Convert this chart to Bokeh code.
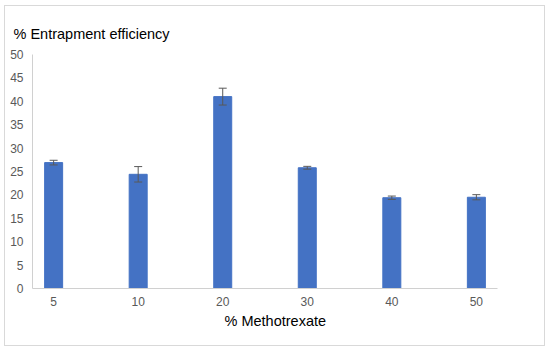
from bokeh.plotting import figure
from bokeh.models import Range1d, ColumnDataSource, Whisker, TeeHead, Title, FixedTicker
from bokeh.embed import file_html
from bokeh.resources import INLINE

categories = ["5", "10", "20", "30", "40", "50"]
values = [26.9, 24.4, 41.0, 25.8, 19.4, 19.5]
errors = [0.5, 1.65, 1.8, 0.3, 0.35, 0.55]
y_ticks = [0, 5, 10, 15, 20, 25, 30, 35, 40, 45, 50]

xs = list(range(len(categories)))
src = ColumnDataSource(dict(
    x=xs, top=values,
    upper=[v + e for v, e in zip(values, errors)],
    lower=[v - e for v, e in zip(values, errors)],
))

p = figure(width=541, height=341, output_backend="svg", toolbar_location=None,
           x_range=Range1d(-0.25, 5.25), y_range=Range1d(0, 50),
           min_border_left=27, min_border_right=49, min_border_top=48, min_border_bottom=59,
           styles={"margin-left": "4px", "margin-top": "5px", "border": "1px solid #d9d9d9"})
p.outline_line_color = None
p.xgrid.grid_line_color = None
p.ygrid.grid_line_color = None

p.vbar(x="x", top="top", width=0.213, bottom=0, source=src, fill_color="#4472C4", line_color="#4472C4")
w = Whisker(base="x", upper="upper", lower="lower", source=src, line_color="#595959", line_width=1,
            upper_head=TeeHead(size=8, line_color="#595959", line_width=1),
            lower_head=TeeHead(size=8, line_color="#595959", line_width=1),
            level="overlay")
p.add_layout(w)

p.xaxis.ticker = FixedTicker(ticks=xs)
p.xaxis.major_label_overrides = {i: c for i, c in zip(xs, categories)}
p.yaxis.ticker = FixedTicker(ticks=y_ticks)
for ax in (p.xaxis, p.yaxis):
    ax.major_tick_line_color = None
    ax.minor_tick_line_color = None
    ax.major_tick_out = 0
    ax.major_tick_in = 0
    ax.minor_tick_out = 0
    ax.minor_tick_in = 0
    ax.axis_line_color = "#d0d0d0"
    ax.major_label_text_color = "#595959"
    ax.major_label_text_font = "Liberation Sans"
    ax.major_label_text_font_size = "12px"
p.yaxis.major_label_standoff = 9
p.xaxis.major_label_standoff = 8

p.title.text = "% Entrapment efficiency"
p.title.align = "left"
p.title.offset = -19
p.title.text_font = "Liberation Sans"
p.title.text_font_size = "14.5px"
p.title.text_font_style = "normal"
p.title.text_color = "#000000"
p.title.standoff = 25

xt = Title(text="% Methotrexate", align="left", offset=192, text_font="Liberation Sans",
           text_font_size="14.5px", text_font_style="normal", text_color="#000000", standoff=5)
p.add_layout(xt, "below")

open("out.html", "w").write(file_html(p, INLINE))
